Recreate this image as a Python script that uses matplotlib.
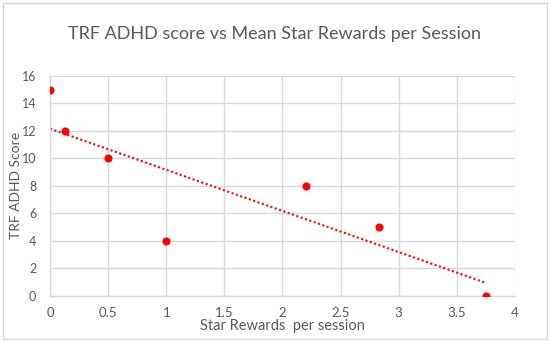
import matplotlib.pyplot as plt
import numpy as np
from matplotlib.patches import Rectangle

plt.rcParams['font.family'] = ['Lato', 'DejaVu Sans']

# data
star_rewards = [0, 0.125, 0.5, 1, 2.2, 2.83, 3.75]
trf_scores = [15, 12, 10, 4, 8, 5, 0]
x_ticks = [0, 0.5, 1, 1.5, 2, 2.5, 3, 3.5, 4]
x_tick_labels = ['0', '0.5', '1', '1.5', '2', '2.5', '3', '3.5', '4']
y_ticks = [0, 2, 4, 6, 8, 10, 12, 14, 16]

text_col = '#595959'
grid_col = '#d9d9d9'

fig = plt.figure(figsize=(5.5, 3.42), dpi=100)
ax = fig.add_axes([0.091, 0.135, 0.845, 0.643])

# chart border
fig.patches.append(Rectangle((0.006, 0.01), 0.988, 0.98, transform=fig.transFigure,
                             fill=False, edgecolor=grid_col, linewidth=1))

ax.scatter(star_rewards, trf_scores, s=34, color='#ff0000', zorder=3, linewidths=0)

# linear trendline
slope, intercept = np.polyfit(star_rewards, trf_scores, 1)
tx = np.array([min(star_rewards), max(star_rewards)])
ax.plot(tx, slope * tx + intercept, color='#ff0000', linestyle=(0, (1, 1.2)), linewidth=1.5, zorder=2)

ax.set_xlim(0, 4)
ax.set_ylim(0, 16)
ax.set_xticks(x_ticks)
ax.set_xticklabels(x_tick_labels)
ax.set_yticks(y_ticks)
ax.grid(True, color=grid_col, linewidth=1)
ax.set_axisbelow(True)
for s in ['top', 'right']:
    ax.spines[s].set_visible(False)
for s in ['left', 'bottom']:
    ax.spines[s].set_color(grid_col)
    ax.spines[s].set_linewidth(1)
ax.tick_params(axis='x', length=0, labelsize=9.5, labelcolor=text_col, pad=8)
ax.tick_params(axis='y', length=0, labelsize=9, labelcolor=text_col, pad=10)

ax.set_xlabel('Star Rewards  per session', fontsize=10.5, color=text_col, labelpad=0)
ax.set_ylabel('TRF ADHD Score', fontsize=10, color=text_col)
ax.yaxis.set_label_coords(-0.06, 0.5)
fig.text(0.5, 0.9, 'TRF ADHD score vs Mean Star Rewards per Session',
         ha='center', va='center', fontsize=13, color=text_col)

fig.savefig('out.png', dpi=100)
